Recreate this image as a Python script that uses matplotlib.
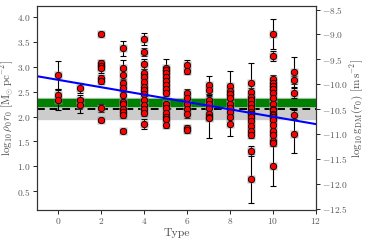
import matplotlib
matplotlib.use("Agg")
import matplotlib.pyplot as plt
import numpy as np

plt.rcParams['font.family'] = 'serif'
plt.rcParams['font.serif'] = ['cmr10', 'DejaVu Serif']
plt.rcParams['mathtext.fontset'] = 'cm'
plt.rcParams['axes.unicode_minus'] = False

# log10(rho0 r0) per galaxy, grouped by morphological type
t0 = [2.83, 2.43, 2.34]
e0 = [0.28, 0.12, 0.20]
t1 = [2.58, 2.34, 2.23]
e1 = [0.10, 0.10, 0.15]
t2 = [3.65, 3.07, 3.02, 2.97, 2.78, 2.71, 2.17, 1.92]
e2 = [0.04, 0.07, 0.08, 0.10, 0.05, 0.06, 0.08, 0.04]
t3 = [3.37, 2.98, 2.83, 2.68, 2.57, 2.43, 2.30, 2.25, 2.15, 2.10, 2.03, 1.70]
e3 = [0.15, 0.15, 0.10, 0.08, 0.06, 0.06, 0.05, 0.05, 0.08, 0.05, 0.05, 0.04]
t4 = [3.55, 3.29, 3.05, 2.87, 2.80, 2.70, 2.60, 2.53, 2.46, 2.33, 2.23, 2.16, 2.08, 1.85]
e4 = [0.12, 0.08, 0.10, 0.08, 0.06, 0.06, 0.05, 0.06, 0.05, 0.08, 0.06, 0.05, 0.06, 0.10]
t5 = [2.98, 2.93, 2.87, 2.80, 2.72, 2.63, 2.55, 2.48, 2.25, 2.17, 2.08, 2.00, 1.96, 1.83]
e5 = [0.18, 0.06, 0.05, 0.06, 0.05, 0.06, 0.05, 0.06, 0.05, 0.06, 0.05, 0.06, 0.05, 0.06]
t6 = [3.03, 2.91, 2.47, 2.37, 2.26, 2.16, 2.06, 1.76, 1.73]
e6 = [0.10, 0.06, 0.08, 0.06, 0.08, 0.06, 0.08, 0.06, 0.06]
t7 = [2.64, 2.54, 2.34, 2.25, 2.17, 2.06, 2.00, 1.98]
e7 = [0.18, 0.08, 0.08, 0.06, 0.08, 0.06, 0.44, 0.06]
t8 = [2.62, 2.52, 2.46, 2.37, 2.26, 2.17, 2.09, 2.00, 1.85]
e8 = [0.29, 0.08, 0.06, 0.06, 0.08, 0.06, 0.06, 0.06, 0.24]
t9 = [2.68, 2.50, 2.40, 2.33, 2.26, 2.17, 2.10, 2.06, 2.00, 1.90, 1.80, 1.70, 1.63, 1.31, 0.75]
e9 = [0.39, 0.08, 0.06, 0.08, 0.06, 0.08, 0.06, 0.08, 0.06, 0.08, 0.06, 0.08, 0.06, 0.10, 0.49]
t10 = [3.65, 3.22, 2.75, 2.68, 2.62, 2.55, 2.48, 2.37, 2.26, 2.16, 2.13,
       2.06, 2.03, 2.00, 1.93, 1.83, 1.70, 1.63, 1.50, 1.46, 1.01]
e10 = [0.30, 0.10, 0.08, 0.06, 0.06, 0.06, 0.08, 0.06, 0.08, 0.06, 0.06,
       0.06, 0.08, 0.06, 0.06, 0.08, 0.06, 0.08, 0.06, 0.06, 0.40]
t11 = [2.90, 2.73, 2.48, 2.04, 1.64]
e11 = [0.30, 0.08, 0.10, 0.10, 0.38]

groups = [t0, t1, t2, t3, t4, t5, t6, t7, t8, t9, t10, t11]
errors = [e0, e1, e2, e3, e4, e5, e6, e7, e8, e9, e10, e11]

# reference bands and linear fit
mean_val = 2.16
gray_band = (1.96, 2.38)
green_band = (2.21, 2.36)
fit_slope = -0.074
fit_intercept = 2.736
g_offset = -12.65   # log10 g_DM = log10(rho0 r0) + offset

fig, ax = plt.subplots(figsize=(3.66, 2.42), dpi=100)
fig.subplots_adjust(left=0.101, right=0.863, top=0.975, bottom=0.132)

ax.axhspan(*gray_band, color='0.8', zorder=1)
ax.axhspan(*green_band, color='green', zorder=1.5)
ax.axhline(mean_val, color='k', ls='--', lw=1.4, dashes=(4, 2.5), zorder=2)

for i, (vals, errs) in enumerate(zip(groups, errors)):
    x = np.full(len(vals), i)
    ax.errorbar(x, vals, yerr=errs, fmt='none', ecolor='k', elinewidth=0.8,
                capsize=2.2, capthick=0.8, zorder=3)
    ax.plot(x, vals, 's', ms=5.6, color='0.6', alpha=0.6, mec='none', zorder=3.5)
    ax.plot(x, vals, 'o', ms=4.6, mfc='red', mec='k', mew=0.6, zorder=4)

xx = np.array([-1, 12])
ax.plot(xx, fit_intercept + fit_slope * xx, color='blue', lw=1.5, zorder=5)

ax.set_xlim(-1, 12)
ax.set_ylim(0.12, 4.22)
ax.set_xticks(np.arange(0, 13, 2))
ax.set_xticklabels([f'${v}$' for v in range(0, 13, 2)])
yt = np.arange(0.5, 4.01, 0.5)
ax.set_yticks(yt)
ax.set_yticklabels([f'${v:.1f}$' for v in yt])
ax.set_xlabel('Type', fontsize=8.5, color='0.3', labelpad=1)
ax.set_ylabel(r'$\log_{10}\rho_0 r_0\ [\mathrm{M}_{\odot}\,\mathrm{pc}^{-2}]$',
              fontsize=8, color='0.3', labelpad=0.5)

ax2 = ax.twinx()
lo, hi = ax.get_ylim()
ax2.set_ylim(lo + g_offset, hi + g_offset)
yt2 = np.arange(-12.5, -8.49, 0.5)
ax2.set_yticks(yt2)
ax2.set_yticklabels([f'${v:.1f}$' for v in yt2])
ax2.set_ylabel(r'$\log_{10}\mathrm{g}_{\mathrm{DM}}(r_0)\ [\mathrm{m\,s}^{-2}]$',
               fontsize=8, color='0.3', labelpad=0.5)

for a in (ax, ax2):
    a.tick_params(labelsize=6.8, labelcolor='0.35', length=3, width=0.6, pad=1.5)
    for s in a.spines.values():
        s.set_color('0.2')
        s.set_linewidth(0.8)

fig.savefig('out.png', dpi=100)
